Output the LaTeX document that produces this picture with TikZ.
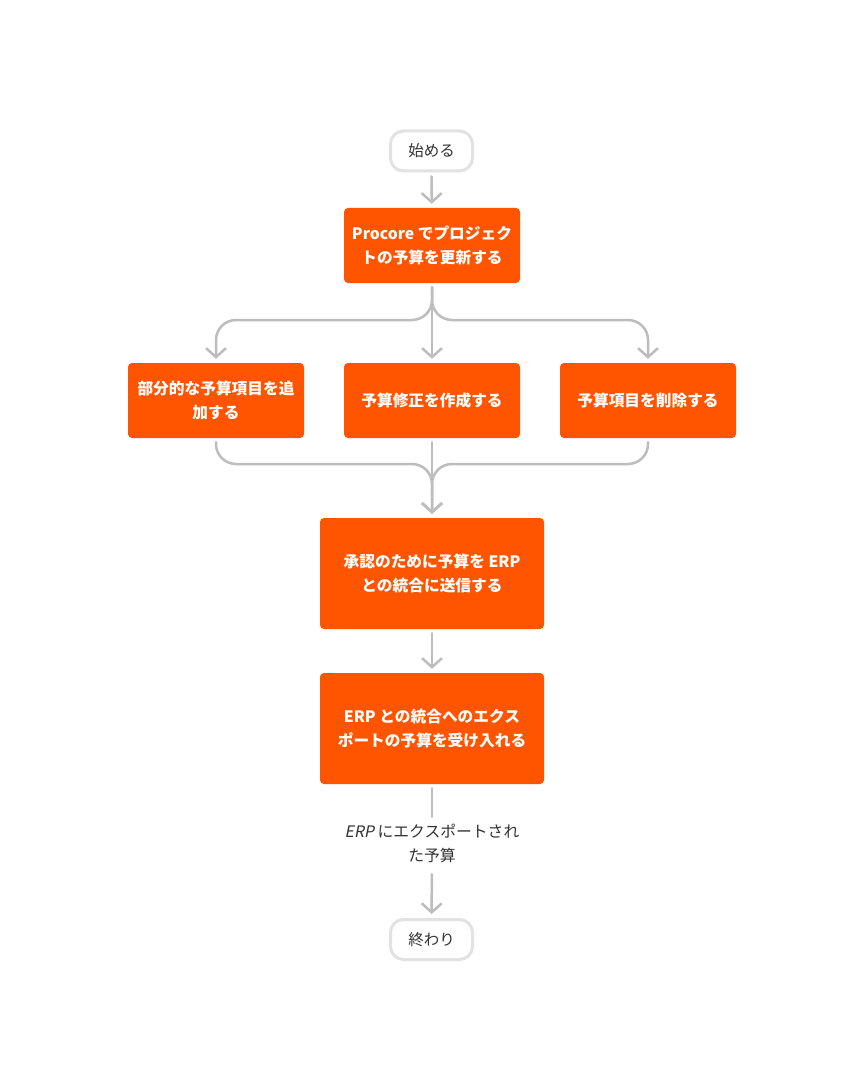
\documentclass[tikz,border=0pt]{standalone}
\usepackage{fontspec}
\setmainfont{Noto Sans CJK JP}
\newfontfamily\jpslant[FakeSlant=0.2]{Noto Sans CJK JP}
\usetikzlibrary{arrows.meta}
\definecolor{orng}{HTML}{FF5500}
\definecolor{connc}{HTML}{BDBDBD}
\definecolor{pillb}{HTML}{E2E2E2}
\definecolor{txt}{HTML}{333333}
\begin{document}
\begin{tikzpicture}[x=1pt,y=-1pt,
  box/.style={fill=orng, rounded corners=4pt, text=white,
    font=\bfseries\fontsize{15.7}{24}\selectfont, align=center,
    inner sep=0pt, minimum width=176pt, minimum height=75pt},
  bigbox/.style={box, minimum width=224pt, minimum height=111pt},
  pill/.style={draw=pillb, line width=3pt, fill=white, rounded corners=13pt,
    minimum width=82pt, minimum height=40pt, inner sep=0pt,
    font=\fontsize{15.5}{20}\selectfont, text=txt},
  conn/.style={draw=connc, line width=2.5pt, line cap=round,
    -{Straight Barb[length=9pt,width=20pt]},
    shorten <=4pt, shorten >=4pt},
  plain/.style={draw=connc, line width=2.5pt, line cap=round, shorten <=4pt},
  lbl/.style={align=center, inner sep=0pt, minimum height=53pt,
    font=\fontsize{15.8}{24}\selectfont, text=txt}
]
\fill[white] (0,0) rectangle (864,1091);
\useasboundingbox (0,0) rectangle (864,1091);

\node[pill] (start) at (431.5,151) {始める};
\node[box] (b1) at (432,245.5) {Procore でプロジェク\\トの予算を更新する};
\node[box] (b2) at (216,400.5) {部分的な予算項目を追\\加する};
\node[box] (b3) at (432,400.5) {予算修正を作成する};
\node[box] (b4) at (648,400.5) {予算項目を削除する};
\node[bigbox] (b5) at (432,573.5) {承認のために予算を ERP\\との統合に送信する};
\node[bigbox] (b6) at (432,728.5) {ERP との統合へのエクス\\ポートの予算を受け入れる};
\node[lbl] (lab) at (432,843.5) {{\jpslant ERP} にエクスポートされ\\た予算};
\node[pill] (end) at (431.5,939.5) {終わり};

\coordinate (split) at (432,320);
\coordinate (merge) at (432,464);

\draw[conn] (start) -- (b1);
\draw[conn, rounded corners=20pt] (b1.south) -- (split) -| (b2.north);
\draw[conn, rounded corners=20pt] (b1.south) -- (split) -| (b4.north);
\draw[conn] (b1) -- (b3);
\draw[conn, rounded corners=20pt] (b2.south) |- (merge) -- (b5.north);
\draw[conn, rounded corners=20pt] (b4.south) |- (merge) -- (b5.north);
\draw[conn] (b3) -- (b5);
\draw[conn] (b5) -- (b6);
\draw[plain] (b6) -- (lab);
\draw[conn] (lab) -- (end);
\end{tikzpicture}
\end{document}
